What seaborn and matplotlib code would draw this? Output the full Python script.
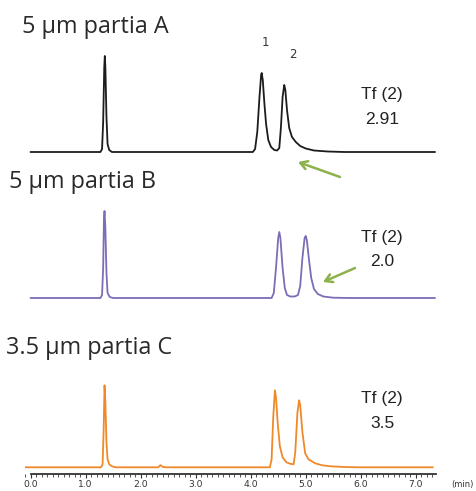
import numpy as np
import pandas as pd
import matplotlib
matplotlib.use("Agg")
import matplotlib.pyplot as plt
from matplotlib.patches import FancyArrowPatch
from matplotlib.ticker import MultipleLocator, FormatStrFormatter
import seaborn as sns

# traced chromatogram points: time (min), signal (relative units)
time_a = [0.0, 1.27, 1.30, 1.32, 1.34, 1.35, 1.36, 1.38, 1.40, 1.43, 1.48,
          4.04, 4.08, 4.12, 4.16, 4.19, 4.20, 4.22, 4.25, 4.28, 4.32, 4.37, 4.43, 4.48,
          4.52, 4.55, 4.58, 4.61, 4.63, 4.66, 4.70, 4.75, 4.82, 4.90, 5.00, 5.15, 5.40, 5.70, 7.35]
signal_a = [0, 0, 3, 30, 85, 96, 85, 35, 8, 2, 0,
            0, 3, 20, 55, 77, 79, 72, 48, 28, 12, 5, 2, 1.5,
            4, 25, 55, 67, 62, 42, 24, 15, 10, 6, 3.5, 1.5, 0.5, 0, 0]

time_b = [0.0, 1.27, 1.30, 1.32, 1.335, 1.345, 1.36, 1.38, 1.40, 1.44, 1.50,
          4.38, 4.42, 4.46, 4.50, 4.52, 4.54, 4.58, 4.62, 4.66, 4.72, 4.80,
          4.86, 4.90, 4.94, 4.98, 5.00, 5.02, 5.06, 5.10, 5.15, 5.22, 5.32, 5.50, 5.80, 7.35]
signal_b = [0, 0, 3, 30, 80, 87, 70, 25, 5, 1, 0,
            0, 5, 30, 60, 66, 60, 30, 10, 3, 1.5, 1.5,
            3, 12, 40, 60, 62, 58, 38, 20, 9, 4, 1.5, 0.3, 0, 0]

time_c = [-0.1, 1.28, 1.31, 1.33, 1.345, 1.36, 1.38, 1.40, 1.43, 1.48, 1.55,
          2.32, 2.36, 2.40, 2.45,
          4.35, 4.38, 4.41, 4.44, 4.46, 4.49, 4.53, 4.58, 4.65, 4.72, 4.78,
          4.81, 4.85, 4.88, 4.90, 4.94, 4.99, 5.05, 5.17, 5.30, 5.45, 5.70, 6.00, 7.31]
signal_c = [0, 0, 3, 40, 82, 65, 25, 8, 3, 1, 0,
            0, 2.2, 0.5, 0,
            0, 8, 50, 77, 70, 45, 21, 10, 5, 3.5, 3,
            15, 55, 67, 62, 35, 14, 8, 4, 2, 1, 0.3, 0, 0]

titles = ["5 µm partia A", "5 µm partia B", "3.5 µm partia C"]
tailing = ["2.91", "2.0", "3.5"]
peak_names = ["1", "2"]
colors = ["#1c1c1c", "#7d6cb6", "#f0892a"]
arrow_color = "#8db24c"

W, H = 476, 491
sns.set_style("white")
fig = plt.figure(figsize=(W / 100, H / 100), dpi=100)


def fy(py):
    return 1 - py / H


x0, x1 = 25, 436
xlim = (-0.1, 7.367)
# (top pixel, bottom pixel, baseline pixel) for each panel
boxes = [(50, 157, 152), (200, 303, 298), (375, 474, 467.3)]
traces = [(time_a, signal_a), (time_b, signal_b), (time_c, signal_c)]

axes = []
for (top, bot, base), (t, s), col in zip(boxes, traces, colors):
    ax = fig.add_axes([x0 / W, fy(bot), (x1 - x0) / W, (bot - top) / H])
    df = pd.DataFrame({"time": t, "signal": s})
    sns.lineplot(data=df, x="time", y="signal", ax=ax, color=col,
                 linewidth=1.3, estimator=None, sort=False)
    ax.set_xlim(*xlim)
    ax.set_ylim(-(bot - base), base - top)
    ax.set_xlabel("")
    ax.set_ylabel("")
    ax.set_yticks([])
    ax.set_xticks([])
    for sp in ["top", "right", "left", "bottom"]:
        ax.spines[sp].set_visible(False)
    ax.patch.set_alpha(0)
    axes.append(ax)

# time axis on the bottom panel
axc = axes[2]
axc.spines["bottom"].set_visible(True)
axc.spines["bottom"].set_bounds(0, 7.36)
axc.spines["bottom"].set_color("#333333")
axc.spines["bottom"].set_linewidth(1.3)
axc.xaxis.set_major_locator(MultipleLocator(1.0))
axc.xaxis.set_minor_locator(MultipleLocator(0.1))
axc.xaxis.set_major_formatter(FormatStrFormatter("%.1f"))
axc.set_xticks(np.arange(0, 7.5, 1.0))
axc.tick_params(axis="x", which="major", bottom=True, direction="out", length=3,
                width=0.8, color="#333333", labelsize=6.6, labelcolor="#333333", pad=1.5)
axc.tick_params(axis="x", which="minor", bottom=True, direction="out", length=2,
                width=0.6, color="#333333")
axc.set_xlim(*xlim)
fig.text(462 / W, fy(485), "(min)", fontsize=6, color="#333333", ha="center", va="center")

# panel titles
title_pos = [(22, 27), (9, 182), (6, 348)]
for (px, py), txt in zip(title_pos, titles):
    fig.text(px / W, fy(py), txt, fontsize=16.8, family="Open Sans", color="#2a2a2a",
             ha="left", va="center")

# peak numbers
fig.text(265 / W, fy(43), peak_names[0], fontsize=8.5, color="#333333", ha="center", va="center")
fig.text(293 / W, fy(55), peak_names[1], fontsize=8.5, color="#333333", ha="center", va="center")

# tailing factor labels
tf_pos = [(95, 120), (237.7, 261), (399, 423)]
for (y1, y2), val in zip(tf_pos, tailing):
    fig.text(382 / W, fy(y1), "Tf (2)", fontsize=12.5, family="Liberation Sans",
             color="#222222", ha="center", va="center")
    fig.text(382 / W, fy(y2), val, fontsize=12.5, family="Liberation Sans",
             color="#222222", ha="center", va="center")

# arrows pointing at the tailing of peak 2
for (tx, ty), (hx, hy) in [((340, 177), (298, 162)), ((355, 268), (323, 282))]:
    fig.add_artist(FancyArrowPatch(
        (tx / W, fy(ty)), (hx / W, fy(hy)), transform=fig.transFigure,
        arrowstyle="->,head_length=5,head_width=3", color=arrow_color, lw=1.8,
        shrinkA=0, shrinkB=0))

fig.savefig("out.png", dpi=100)
